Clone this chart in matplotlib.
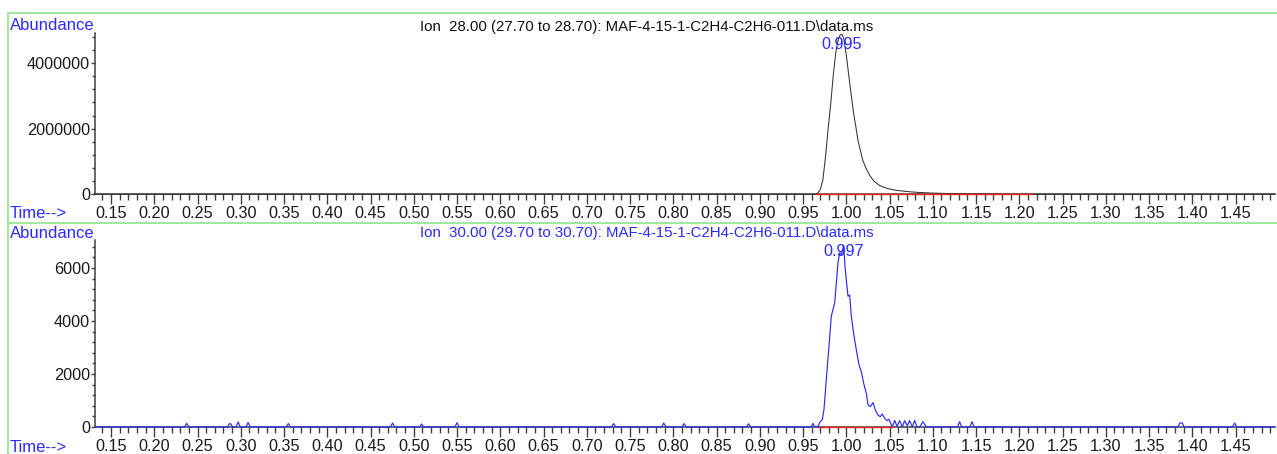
import matplotlib
matplotlib.use("Agg")
import matplotlib.pyplot as plt
import numpy as np
from matplotlib.lines import Line2D

plt.rcParams["font.family"] = ["Liberation Sans", "DejaVu Sans"]

# Ion 28 trace (time in min, abundance)
ion28_time = [0.1315, 0.960, 0.964, 0.967, 0.970, 0.973, 0.976, 0.979, 0.982, 0.985,
              0.988, 0.991, 0.993, 0.995, 0.997, 1.000, 1.004, 1.008, 1.0135, 1.019,
              1.023, 1.027, 1.032, 1.0385, 1.045, 1.050, 1.058, 1.070, 1.082, 1.096,
              1.115, 1.135, 1.154, 1.175, 1.195, 1.215, 1.4956]
ion28_abund = [0, 0, 0, 40000, 140000, 450000, 1150000, 2000000, 2750000, 3650000,
               4350000, 4750000, 4860000, 4880000, 4760000, 4250000, 3380000, 2560000, 1650000, 1040000,
               780000, 580000, 400000, 270000, 200000, 160000, 120000, 85000, 60000, 40000,
               25000, 17000, 12000, 7000, 3000, 0, 0]

# Ion 30 trace (time in min, abundance)
ion30_time = [0.1315,
              0.235, 0.2375, 0.240,
              0.285, 0.2865, 0.2885, 0.2905, 0.2945, 0.297, 0.2995, 0.306, 0.3085, 0.311,
              0.3525, 0.355, 0.3575,
              0.473, 0.4755, 0.478, 0.5065, 0.509, 0.5115, 0.5475, 0.550, 0.5525,
              0.7285, 0.731, 0.7335, 0.7865, 0.789, 0.7915, 0.810, 0.8125, 0.815,
              0.8845, 0.887, 0.8895,
              0.9596, 0.9615, 0.9634, 0.9673, 0.9692, 0.9723, 0.9742, 0.9769, 0.980, 0.9827,
              0.9846, 0.9866, 0.9885, 0.9904, 0.9923, 0.9943, 0.997, 0.9985, 1.000, 1.002,
              1.0039, 1.0058, 1.0085, 1.0116, 1.0147, 1.0174, 1.0201, 1.0232, 1.0251, 1.0278,
              1.0309, 1.0336, 1.0366, 1.0393, 1.0416, 1.0443, 1.047, 1.0493, 1.0513, 1.0532,
              1.0559, 1.0586, 1.0617, 1.0648, 1.0674, 1.0705, 1.0732, 1.0763, 1.079, 1.0817,
              1.0848, 1.0886, 1.0925,
              1.1285, 1.131, 1.1335, 1.1428, 1.1453, 1.1478,
              1.3835, 1.3855, 1.3885, 1.3905,
              1.4465, 1.449, 1.4515, 1.4956]
ion30_abund = [0,
               0, 140, 0,
               0, 120, 120, 0, 0, 190, 0, 0, 170, 0,
               0, 130, 0,
               0, 150, 0, 0, 110, 0, 0, 160, 0,
               0, 130, 0, 0, 150, 0, 0, 130, 0,
               0, 120, 0,
               0, 140, 0, 0, 176, 277, 654, 1790, 3050, 4180,
               4430, 4680, 5440, 6190, 6570, 6510, 6850, 6060, 5550, 4930,
               4980, 4180, 3530, 2910, 2340, 2090, 1650, 1270, 830, 770,
               920, 640, 450, 390, 490, 330, 240, 290, 140, 0,
               250, 25, 240, 0, 240, 50, 240, 0, 250, 0,
               0, 200, 0,
               0, 200, 0, 0, 200, 0,
               0, 150, 150, 0,
               0, 150, 0, 0]

# integration baselines and labelled retention times
ion28_base = [0.965, 1.215]
ion30_base = [0.969, 1.053]
ion28_rt = 0.995
ion30_rt = 0.997

W, H = 1277, 454
fig = plt.figure(figsize=(W / 100, H / 100), dpi=100)


def px_box(left, top, right, bottom):
    return [left / W, 1 - bottom / H, (right - left) / W, (bottom - top) / H]


def fx(x):
    return x / W


def fy(y):
    return 1 - y / H


ax1 = fig.add_axes(px_box(95, 33.3, 1275, 194.3))
ax2 = fig.add_axes(px_box(95, 240, 1275, 427))

blue = "#2a2aff"
axis_col = "#404040"
green = "#9ee89e"

for ax, ymax, ymajor, yminor in [(ax1, 4.91e6, 2e6, 4e5), (ax2, 7055, 2000, 400)]:
    ax.set_xlim(0.1315, 1.4956)
    ax.set_ylim(0, ymax)
    ax.set_xticks(np.round(np.arange(0.15, 1.451, 0.05), 2))
    ax.set_xticks(np.round(np.arange(0.14, 1.491, 0.01), 2), minor=True)
    ax.set_yticks(np.arange(0, ymax, ymajor))
    ax.set_yticks(np.arange(0, ymax, yminor), minor=True)
    ax.xaxis.set_major_formatter(matplotlib.ticker.FormatStrFormatter("%.2f"))
    ax.yaxis.set_major_formatter(matplotlib.ticker.FormatStrFormatter("%d"))
    ax.tick_params(axis="x", which="major", length=7, width=1, color=axis_col,
                   pad=1.7, labelsize=11.7, labelcolor="#1a1a1a")
    ax.tick_params(axis="x", which="minor", length=4, width=1, color=axis_col)
    ax.tick_params(axis="y", which="major", length=3, width=1, color=axis_col,
                   pad=0.6, labelsize=11.7, labelcolor="#1a1a1a")
    ax.tick_params(axis="y", which="minor", length=2, width=1, color=axis_col)
    for side in ["top", "right"]:
        ax.spines[side].set_visible(False)
    for side in ["left", "bottom"]:
        ax.spines[side].set_color(axis_col)
        ax.spines[side].set_linewidth(1.1)
    ax.patch.set_alpha(0)

ax1.plot(ion28_time, ion28_abund, color="#333333", lw=0.75, zorder=3, clip_on=False)
ax1.plot(ion28_base, [0, 0], color="#ff2020", lw=1.0, zorder=4, clip_on=False)
ax2.plot(ion30_time, ion30_abund, color=blue, lw=0.85, zorder=3, clip_on=False)
ax2.plot(ion30_base, [0, 0], color="#ff2020", lw=1.0, zorder=4, clip_on=False)

for ax, rt in [(ax1, ion28_rt), (ax2, ion30_rt)]:
    ax.annotate("%.3f" % rt, xy=(rt, 1), xycoords=("data", "axes fraction"),
                xytext=(0, -11.3), textcoords="offset points",
                ha="center", va="baseline", fontsize=11.7, color=blue)

# panel titles and axis captions
fig.text(fx(647), fy(31), r"Ion  28.00 (27.70 to 28.70): MAF-4-15-1-C2H4-C2H6-011.D\data.ms",
         ha="center", va="baseline", fontsize=10.8, color="#111111")
fig.text(fx(647), fy(237.5), r"Ion  30.00 (29.70 to 30.70): MAF-4-15-1-C2H4-C2H6-011.D\data.ms",
         ha="center", va="baseline", fontsize=10.8, color=blue)
fig.text(fx(9.5), fy(30), "Abundance", ha="left", va="baseline", fontsize=12, color=blue)
fig.text(fx(9.5), fy(237.5), "Abundance", ha="left", va="baseline", fontsize=12, color=blue)
fig.text(fx(9.5), fy(218), "Time-->", ha="left", va="baseline", fontsize=12, color=blue)
fig.text(fx(9.5), fy(452), "Time-->", ha="left", va="baseline", fontsize=12, color=blue)

# panel frame lines
fig.add_artist(Line2D([fx(8), 1], [fy(13), fy(13)], color=green, lw=1.4))
fig.add_artist(Line2D([fx(8), 1], [fy(223), fy(223)], color=green, lw=1.4))
fig.add_artist(Line2D([fx(8), fx(8)], [fy(13), 0], color=green, lw=1.4))

fig.savefig("out.png", dpi=100, facecolor="white")
